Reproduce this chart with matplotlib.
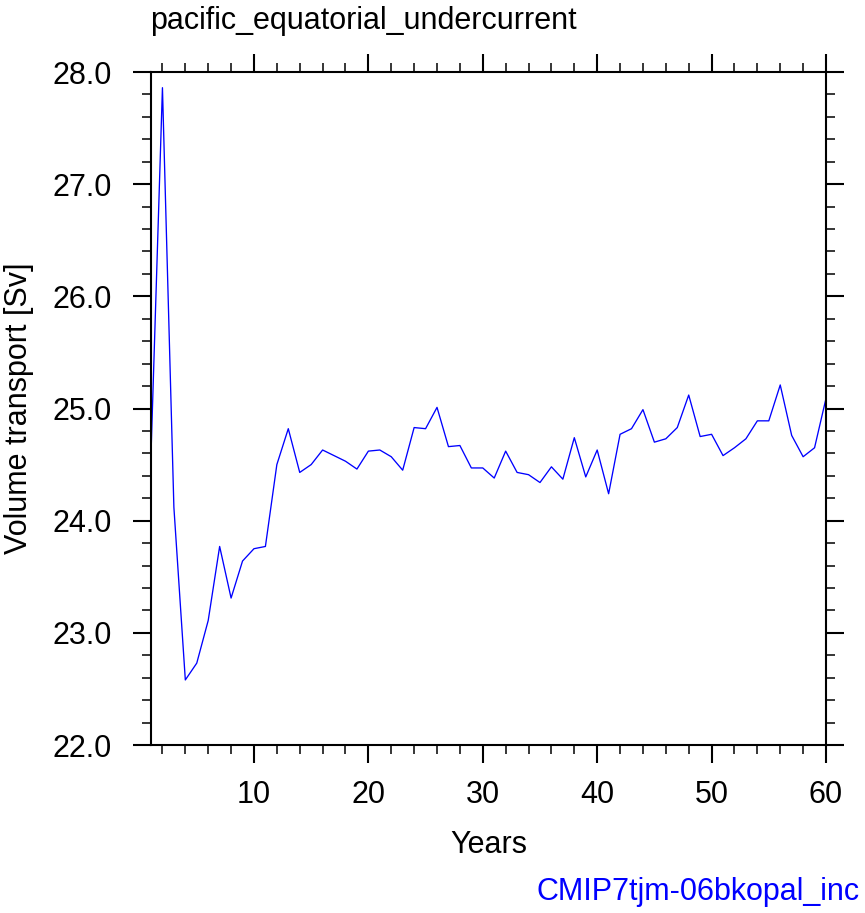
import numpy as np
import matplotlib
matplotlib.use("Agg")
import matplotlib.pyplot as plt
from matplotlib.ticker import MultipleLocator, FormatStrFormatter

plt.rcParams['font.family'] = ['Liberation Sans', 'DejaVu Sans']

# yearly volume transport (years 1..60)
years = np.arange(1, 61)
transport = [24.59, 27.86, 24.12, 22.58, 22.73, 23.11, 23.77, 23.31, 23.64, 23.75,
             23.77, 24.50, 24.82, 24.43, 24.50, 24.63, 24.58, 24.53, 24.46, 24.62,
             24.63, 24.57, 24.45, 24.83, 24.82, 25.01, 24.66, 24.67, 24.47, 24.47,
             24.38, 24.62, 24.43, 24.41, 24.34, 24.48, 24.37, 24.74, 24.39, 24.63,
             24.24, 24.77, 24.82, 24.99, 24.70, 24.73, 24.83, 25.12, 24.75, 24.77,
             24.58, 24.65, 24.73, 24.89, 24.89, 25.21, 24.76, 24.57, 24.65, 25.09]

title = "pacific_equatorial_undercurrent"
xlabel = "Years"
ylabel = "Volume transport [Sv]"
run_name = "CMIP7tjm-06bkopal_inc"

W, H = 865, 913
fig = plt.figure(figsize=(W / 100, H / 100), dpi=100)
ax = fig.add_axes([151 / W, 1 - 745 / H, (826 - 151) / W, (745 - 72) / H])

ax.plot(years, transport, color='#0000ff', lw=0.95)

ax.set_xlim(1, 60)
ax.set_ylim(22, 28)
ax.xaxis.set_major_locator(MultipleLocator(10))
ax.xaxis.set_minor_locator(MultipleLocator(2))
ax.yaxis.set_major_locator(MultipleLocator(1))
ax.yaxis.set_minor_locator(MultipleLocator(0.2))
ax.yaxis.set_major_formatter(FormatStrFormatter('%.1f'))

for s in ax.spines.values():
    s.set_linewidth(1.5)
ax.tick_params(which='both', direction='out', top=True, right=True)
ax.tick_params(which='major', length=13, width=1.5)
ax.tick_params(which='minor', length=6.5, width=1.1)
ax.tick_params(axis='x', which='major', labelsize=22, pad=12.5)
ax.tick_params(axis='y', which='major', labelsize=22, pad=15)

fig.text(150 / W, 1 - 29 / H, title, fontsize=22, ha='left', va='baseline')
fig.text(488.5 / W, 1 - 853 / H, xlabel, fontsize=22, ha='center', va='baseline')
fig.text(19.5 / W, 1 - 408.5 / H, ylabel, fontsize=22, rotation=90,
         ha='center', va='center')
fig.text(860 / W, 1 - 900 / H, run_name, fontsize=22, color='#0000ff',
         ha='right', va='baseline')

fig.savefig("out.png", dpi=100)
